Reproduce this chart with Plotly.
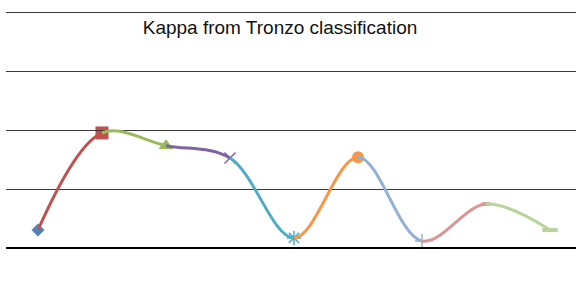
import plotly.graph_objects as go

categories = ["1", "2", "3", "4", "5", "6", "7", "8", "9"]
kappa = [0.061, 0.390, 0.347, 0.305, 0.034, 0.308, 0.024, 0.149, 0.061]
y_ticks = [0, 0.2, 0.4, 0.6, 0.8]

colors = ["#4F81BD", "#C0504D", "#9BBB59", "#8064A2", "#4BACC6",
          "#F79646", "#93B1D6", "#D99694", "#B9D39C"]
symbols = ["diamond", "square", "triangle-up", "x-thin-open", "asterisk-open",
           "circle", "cross-thin-open", "line-ew-open", "line-ew-open"]
sizes = [10, 13, 13, 11, 12, 12, 10, 6, 11]
lw = [0, 0, 0, 1.5, 1.5, 0, 1.5, 3.5, 4]

n = len(categories)
x_hi = -0.5 + 570 / 64.0
span = x_hi + 0.5

fig = go.Figure()
layout_axes = {}
for k in range(1, n):
    ax = f"xaxis{k + 1}"
    layout_axes[ax] = dict(
        type="category", categoryarray=categories, categoryorder="array",
        domain=[(k - 1 + 0.5) / span, (k + 0.5) / span], range=[k - 1, k],
        visible=False, anchor="y", fixedrange=True,
        showgrid=False, zeroline=False,
    )
    fig.add_trace(go.Scatter(
        x=categories, y=kappa, mode="lines", xaxis=f"x{k + 1}", yaxis="y",
        line=dict(color=colors[k], width=3, shape="spline", smoothing=1),
        hoverinfo="skip", showlegend=False,
    ))

for i in range(n):
    fig.add_trace(go.Scatter(
        x=[categories[i]], y=[kappa[i]], mode="markers", xaxis="x", yaxis="y",
        marker=dict(symbol=symbols[i], size=sizes[i], color=colors[i],
                    line=dict(color=colors[i], width=lw[i])),
        cliponaxis=False, showlegend=False,
    ))

fig.update_layout(
    width=576, height=304,
    margin=dict(l=6, r=0, t=9, b=56),
    paper_bgcolor="white", plot_bgcolor="rgba(0,0,0,0)",
    title=dict(text="Kappa from Tronzo classification", x=280 / 576, xanchor="center",
               y=1 - 27 / 304, yanchor="middle",
               font=dict(family="Liberation Sans, Arial", size=19, color="#111")),
    xaxis=dict(type="category", categoryarray=categories, categoryorder="array",
               range=[-0.5, x_hi], domain=[0, 1], showticklabels=False,
               showgrid=False, ticks="", showline=False, zeroline=False,
               fixedrange=True),
    yaxis=dict(range=[0, 0.8102], tickvals=y_ticks, showticklabels=False,
               showgrid=True, gridcolor="#3a3a3a", gridwidth=1.2,
               zeroline=True, zerolinecolor="#000", zerolinewidth=2,
               showline=False, ticks="", fixedrange=True),
    **layout_axes,
)

fig.write_html("out.html", config={"displayModeBar": False},
               post_script="document.body.style.margin='0';")
